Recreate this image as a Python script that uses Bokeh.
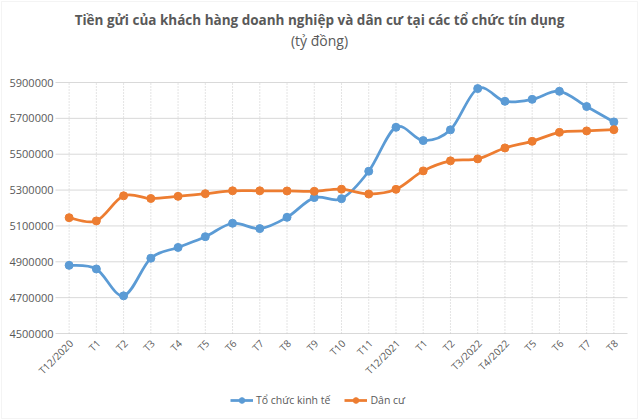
import numpy as np
from bokeh.plotting import figure
from bokeh.models import Range1d, Label, Legend, LegendItem, BoxAnnotation
from bokeh.core.properties import value
from bokeh.embed import file_html
from bokeh.resources import INLINE

categories = ["T12/2020", "T1", "T2", "T3", "T4", "T5", "T6", "T7", "T8", "T9", "T10",
              "T11", "T12/2021", "T1", "T2", "T3/2022", "T4/2022", "T5", "T6", "T7", "T8"]
to_chuc_kinh_te = [4880000, 4860000, 4710000, 4920000, 4980000, 5040000, 5115000, 5085000,
                   5148000, 5258000, 5252000, 5405000, 5650000, 5576000, 5636000, 5866000,
                   5795000, 5806000, 5851000, 5766000, 5680000]
dan_cu = [5146000, 5128000, 5268000, 5253000, 5265000, 5280000, 5296000, 5296000, 5295000,
          5293000, 5305000, 5278000, 5304000, 5407000, 5463000, 5474000, 5535000, 5572000,
          5622000, 5630000, 5637000]
y_ticks = [4500000, 4700000, 4900000, 5100000, 5300000, 5500000, 5700000, 5900000]
y_tick_labels = [str(t) for t in y_ticks]

title_text = "Tiền gửi của khách hàng doanh nghiệp và dân cư tại các tổ chức tín dụng"
subtitle_text = "(tỷ đồng)"
series_names = ["Tổ chức kinh tế", "Dân cư"]
colors = ["#5B9BD5", "#ED7D31"]

FONT = "Open Sans"
TXT = "#595959"

# layout (pixels)
W, H = 640, 420
PLOT_L, PLOT_R = 55, 627     # plot area left / right edge
PLOT_T, PLOT_B = 82, 333     # top / bottom gridline


def smooth_segments(xs, ys):
    x = np.asarray(xs, float)
    y = np.asarray(ys, float)
    n = len(x)
    xp = np.concatenate([[x[0]], x, [x[-1]]])
    yp = np.concatenate([[y[0]], y, [y[-1]]])
    x0, x1 = x[:-1], x[1:]
    y0, y1 = y[:-1], y[1:]
    cx0 = x0 + (xp[2:n + 1] - xp[0:n - 1]) / 6.0
    cy0 = y0 + (yp[2:n + 1] - yp[0:n - 1]) / 6.0
    cx1 = x1 - (xp[3:n + 2] - xp[1:n]) / 6.0
    cy1 = y1 - (yp[3:n + 2] - yp[1:n]) / 6.0
    return dict(x0=x0, y0=y0, x1=x1, y1=y1, cx0=cx0, cy0=cy0, cx1=cx1, cy1=cy1)


xs = list(range(len(categories)))
n = len(xs)
xunit = n / (PLOT_R - PLOT_L)
yunit = (y_ticks[-1] - y_ticks[0]) / (PLOT_B - PLOT_T)

p = figure(width=W, height=H, output_backend="svg", toolbar_location=None,
           x_axis_location=None, y_axis_location=None,
           x_range=Range1d(-0.5 - PLOT_L * xunit, n - 0.5 + (W - PLOT_R) * xunit),
           y_range=Range1d(y_ticks[0] - (H - PLOT_B) * yunit, y_ticks[-1] + PLOT_T * yunit),
           min_border_left=0, min_border_right=0, min_border_bottom=0, min_border_top=0)

p.outline_line_color = None
p.background_fill_color = "white"
p.border_fill_color = "white"
p.xgrid.visible = False
p.ygrid.visible = False

# chart border
p.add_layout(BoxAnnotation(left=1, right=637, bottom=2, top=419,
                           left_units="screen", right_units="screen",
                           bottom_units="screen", top_units="screen",
                           fill_alpha=0, line_color="#D9D9D9", line_width=1))

# titles
cx = 319
p.add_layout(Label(x=cx, y=H - 19, x_units="screen", y_units="screen", text=title_text,
                   text_align="center", text_baseline="middle", text_font=FONT,
                   text_font_size="13.5px", text_font_style="bold", text_color=TXT))
p.add_layout(Label(x=cx, y=H - 40, x_units="screen", y_units="screen", text=subtitle_text,
                   text_align="center", text_baseline="middle", text_font=FONT,
                   text_font_size="14px", text_color=TXT))

# horizontal gridlines
p.segment(x0=[-0.5] * len(y_ticks), y0=y_ticks, x1=[n - 0.5] * len(y_ticks), y1=y_ticks,
          line_color="#D9D9D9", line_width=1)
# vertical dotted category gridlines
p.segment(x0=xs, y0=[y_ticks[0]] * n, x1=xs, y1=[y_ticks[-1]] * n,
          line_color="#C8C8C8", line_width=1, line_dash="1 2")

# y tick labels
p.text(x=[-0.5] * len(y_ticks), y=y_ticks, text=y_tick_labels, x_offset=-2,
       text_align="right", text_baseline="middle",
       text_font=value(FONT), text_font_size="11px", text_color=TXT)

# category labels
p.text(x=xs, y=[y_ticks[0]] * n, text=categories, angle=np.pi / 4,
       text_align="right", text_baseline="middle", x_offset=2, y_offset=8,
       text_font=value(FONT), text_font_size="10px", text_color=TXT)

items = []
for name, vals, col in zip(series_names, [to_chuc_kinh_te, dan_cu], colors):
    seg = smooth_segments(xs, vals)
    b = p.bezier(line_color=col, line_width=2.75, **seg)
    s = p.scatter(xs, vals, size=8, fill_color=col, line_color=col)
    items.append(LegendItem(label=name, renderers=[b, s]))

legend = Legend(items=items, orientation="horizontal", location=(230, 13),
                label_text_font=FONT, label_text_font_size="10.5px", label_text_color=TXT,
                glyph_width=23, glyph_height=14, label_height=14, spacing=14,
                label_standoff=3, border_line_color=None, background_fill_alpha=0,
                padding=0, margin=0)
p.add_layout(legend, "center")

open("out.html", "w").write(file_html(p, INLINE))
